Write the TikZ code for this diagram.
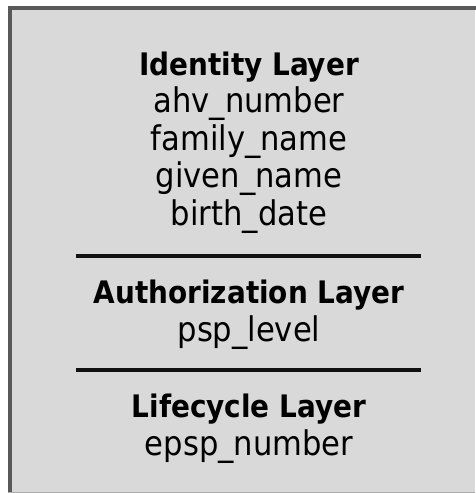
\documentclass[tikz,border=0pt]{standalone}
\usepackage{fontspec}
\setmainfont{DejaVu Sans Condensed}[BoldFont={DejaVu Sans Condensed Bold}]
\definecolor{boxfill}{HTML}{D9D9D9}
\definecolor{boxborder}{HTML}{595959}
\definecolor{sepline}{HTML}{111111}
\begin{document}
\begin{tikzpicture}[x=1pt,y=-1pt,
  layertitle/.style={font=\fontsize{31}{36}\selectfont\bfseries, anchor=base, inner sep=0pt, text=black},
  layerattr/.style={font=\fontsize{34}{40}\selectfont, anchor=base, inner sep=0pt, text=black},
  sepstyle/.style={draw=sepline, line width=3.4pt}]
\useasboundingbox (0,0) rectangle (475,493);
\fill[white] (0,0) rectangle (475,493);
\fill[boxfill] (10,8) rectangle (475,493);
\draw[boxborder, line width=4pt, line join=miter] (10,495) -- (10,8) -- (477,8);
\draw[gray!65, line width=1.5pt] (8,492.3) -- (475,492.3);
% identity layer
\node[layertitle] (idt) at (249,75) {Identity Layer};
\node[layerattr] (ahv) at (249,112.5) {ahv\_number};
\node[layerattr] (fam) at (249,150) {family\_name};
\node[layerattr] (giv) at (249,187.5) {given\_name};
\node[layerattr] (bir) at (249,225) {birth\_date};
\draw[sepstyle] (76,256) -- (421,256);
% authorization layer
\node[layertitle] (aut) at (249,303) {Authorization Layer};
\node[layerattr] (psp) at (249,341) {psp\_level};
\draw[sepstyle] (76,370) -- (421,370);
% lifecycle layer
\node[layertitle] (lif) at (249,417) {Lifecycle Layer};
\node[layerattr] (eps) at (249,455) {epsp\_number};
\end{tikzpicture}
\end{document}
